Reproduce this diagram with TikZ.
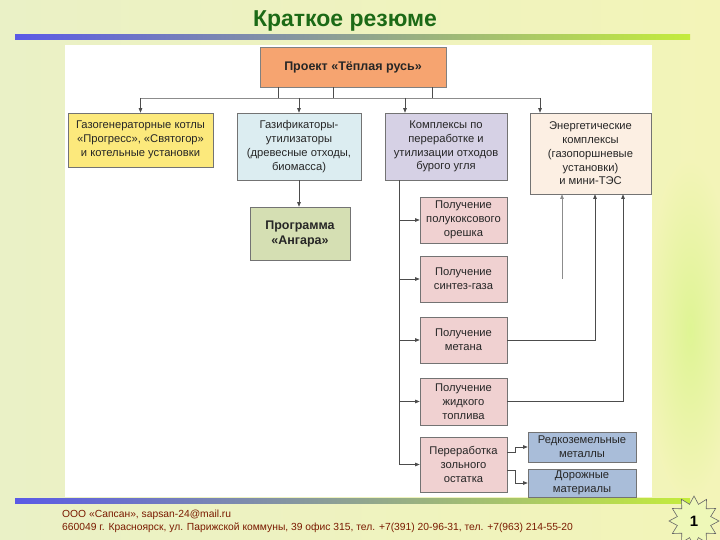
\documentclass[tikz,border=0pt]{standalone}
\usepackage{fontspec}
\setmainfont{Liberation Sans}
\usetikzlibrary{arrows.meta,shapes.geometric}
\definecolor{bgL}{HTML}{EAF1C6}
\definecolor{bgR}{HTML}{F3F4B8}
\definecolor{lnBlue}{HTML}{5A5AE6}
\definecolor{lnMid}{HTML}{A8C8A8}
\definecolor{lnGreen}{HTML}{C4EC3C}
\definecolor{titleGreen}{HTML}{1C6A16}
\definecolor{cTop}{HTML}{F6A470}
\definecolor{cA}{HTML}{FCE97C}
\definecolor{cB}{HTML}{DCEDF1}
\definecolor{cC}{HTML}{D6D1E5}
\definecolor{cD}{HTML}{FCEFE3}
\definecolor{cE}{HTML}{D5DFB3}
\definecolor{cP}{HTML}{F0D1D1}
\definecolor{cR}{HTML}{A9BDD9}
\definecolor{footRed}{HTML}{7A1A00}
\definecolor{starFill}{HTML}{EEF8B8}
\tikzset{
  box/.style={draw=black!55, line width=0.6pt, align=center, inner sep=1pt,
    font=\fontsize{11.2}{13.8}\selectfont, text=black!85},
  boldbox/.style={box, font=\fontsize{12.5}{15}\selectfont\bfseries},
  conn/.style={draw=black!70, line width=0.6pt},
  arr/.style={conn, -{Triangle[length=4.5pt,width=3.5pt]}},
  footer/.style={anchor=west, text=footRed, font=\fontsize{10.3}{12}\selectfont, inner sep=0pt},
}
\begin{document}
\begin{tikzpicture}[x=1pt,y=-1pt]
\useasboundingbox (0,0) rectangle (720,540);
% background
\shade[left color=bgL, right color=bgR] (0,0) rectangle (720,540);
\shade[inner color=lnGreen!55, outer color=bgR] (690,330) ellipse (45 and 170);
% gradient rules
\shade[left color=lnBlue, middle color=lnMid, right color=lnGreen] (15,35) rectangle (690,40);
\shade[left color=lnBlue, middle color=lnMid, right color=lnGreen] (15,498) rectangle (690,503);
% title
\node[text=titleGreen, font=\fontsize{23}{26}\selectfont\bfseries] (title) at (345,21) {Краткое резюме};
% white panel
\fill[white] (65,45) rectangle (652,497);

% nodes
\node[boldbox, fill=cTop, draw=black!50, minimum width=186pt, minimum height=40pt] (top) at (353,67) {Проект «Тёплая русь»};
\node[box, fill=cA, minimum width=145pt, minimum height=54pt] (A) at (140.5,140) {Газогенераторные котлы\\«Прогресс», «Святогор»\\и котельные установки};
\node[box, fill=cB, minimum width=124pt, minimum height=67pt] (B) at (299,146.5) {Газификаторы-\\утилизаторы\\(древесные отходы,\\биомасса)};
\node[box, fill=cC, minimum width=122pt, minimum height=67pt] (C) at (446,146.5) {Комплексы по\\переработке и\\утилизации отходов\\бурого угля};
\node[box, fill=cD, minimum width=121pt, minimum height=81pt] (D) at (590.5,153.5) {Энергетические\\комплексы\\(газопоршневые\\установки)\\и мини-ТЭС};
\node[boldbox, fill=cE, minimum width=100pt, minimum height=53pt] (E) at (300,233.5) {Программа\\«Ангара»};
\node[box, fill=cP, minimum width=87pt, minimum height=46pt] (P1) at (463.5,220) {Получение\\полукоксового\\орешка};
\node[box, fill=cP, minimum width=87pt, minimum height=46pt] (P2) at (463.5,279) {Получение\\синтез-газа};
\node[box, fill=cP, minimum width=87pt, minimum height=46pt] (P3) at (463.5,340) {Получение\\метана};
\node[box, fill=cP, minimum width=87pt, minimum height=47pt] (P4) at (463.5,401.5) {Получение\\жидкого\\топлива};
\node[box, fill=cP, minimum width=87pt, minimum height=55pt] (P5) at (463.5,464.5) {Переработка\\зольного\\остатка};
\node[box, fill=cR, minimum width=108pt, minimum height=30pt] (R1) at (582,447) {Редкоземельные\\металлы};
\node[box, fill=cR, minimum width=108pt, minimum height=28pt] (R2) at (582,483) {Дорожные\\материалы};

% coordinates
\coordinate (bus) at (0,98);
\coordinate (xc) at (405,0);
\coordinate (xd) at (540,0);
\coordinate (sp) at (399,0);
\coordinate (e1) at (562,0);
\coordinate (e2) at (595,0);
\coordinate (e3) at (623,0);

% top distribution
\draw[conn] ([xshift=-75pt]top.south) -- ++(0,11);
\draw[conn] ([xshift=-20pt]top.south) -- ++(0,11);
\draw[conn] ([xshift=79pt]top.south) -- ++(0,11);
\draw[conn, draw=black!45] (A.north |- bus) -- (xd |- bus);
\draw[arr] (A.north |- bus) -- (A.north);
\draw[arr] (B.north |- bus) -- (B.north);
\draw[arr] (xc |- bus) -- (xc |- C.north);
\draw[arr] (xd |- bus) -- (xd |- D.north);

% B -> E
\draw[arr] (B.south) -- (B.south |- E.north);

% C spine
\draw[conn] (sp |- C.south) -- (sp |- P5.west);
\draw[arr] (sp |- P1.west) -- (P1.west);
\draw[arr] (sp |- P2.west) -- (P2.west);
\draw[arr] (sp |- P3.west) -- (P3.west);
\draw[arr] (sp |- P4.west) -- (P4.west);
\draw[arr] (sp |- P5.west) -- (P5.west);

% P5 -> R1, R2
\draw[arr] ([yshift=12.5pt]P5.east) -- ++(8,0) |- (R1.west);
\draw[arr] ([yshift=-5.5pt]P5.east) -- ++(8,0) |- (R2.west);

% energy feeds
\draw[arr, draw=black!45] (e1 |- P2.east) -- (e1 |- D.south);
\draw[arr] (P3.east) -| (e2 |- D.south);
\draw[arr] (P4.east) -| (e3 |- D.south);

% footer
\node[footer] (f1) at (62,515) {ООО «Сапсан», sapsan-24@mail.ru};
\node[footer] (f2) at (62,528) {660049 г. Красноярск, ул. Парижской коммуны, 39 офис 315, тел. +7(391) 20-96-31, тел. +7(963) 214-55-20};

% star badge
\node[star, star points=12, star point ratio=1.45, minimum size=50pt, inner sep=0pt, fill=starFill, draw=black!60, line width=0.6pt] (badge) at (694,521) {};
\node[font=\fontsize{15}{16}\selectfont\bfseries] (num) at (badge.center) {1};
\end{tikzpicture}
\end{document}
